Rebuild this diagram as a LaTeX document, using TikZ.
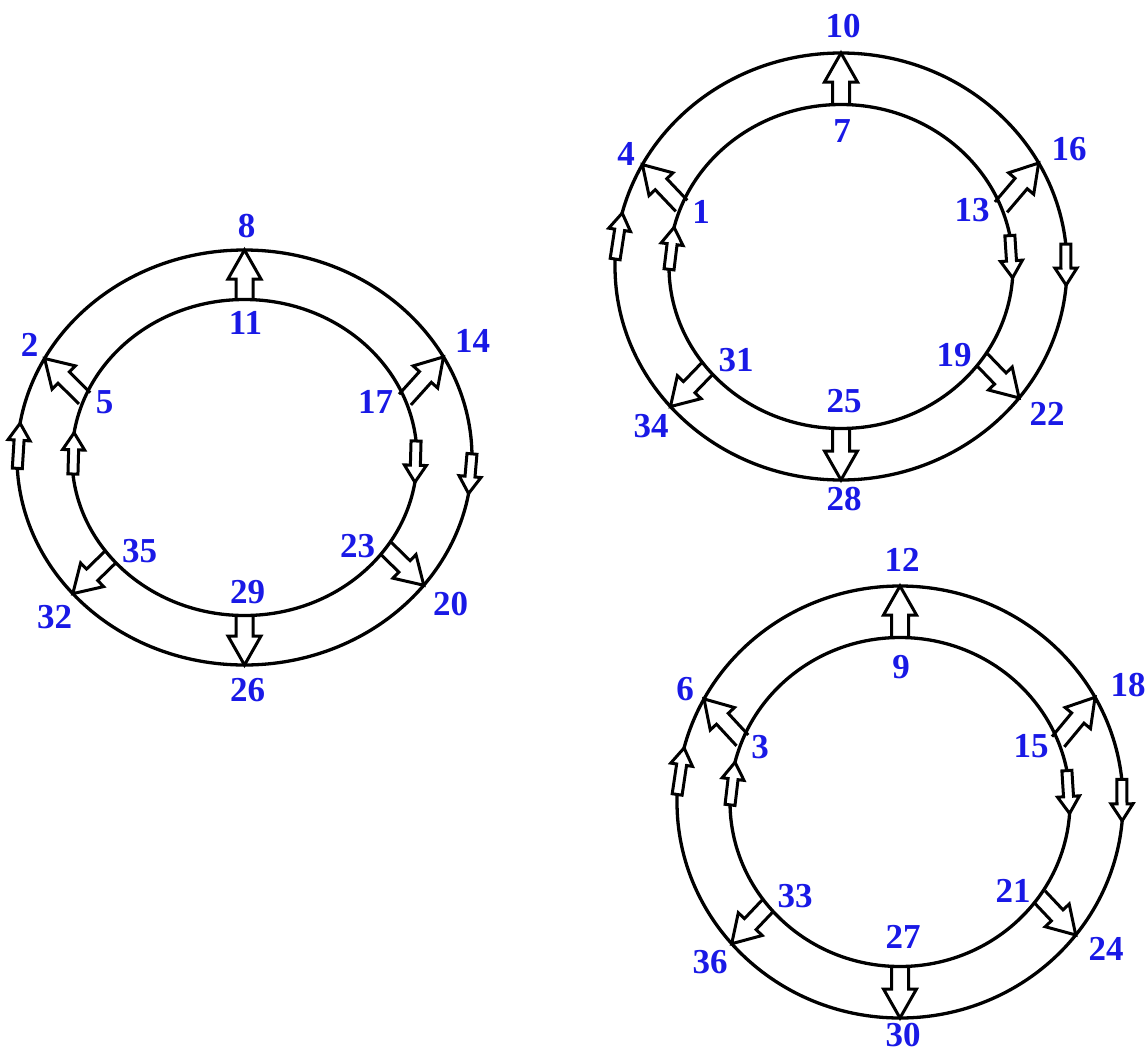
\documentclass[tikz,border=0pt]{standalone}
\usepackage{fontspec}
\setmainfont{Liberation Serif}
\usetikzlibrary{calc}
\definecolor{lblue}{RGB}{25,25,230}
\tikzset{
  ring/.style={line width=3.3pt, draw=black},
  barr/.style={line width=3pt, draw=black, fill=white, line join=miter},
  lab/.style={text=lblue, font=\fontsize{35}{35}\selectfont\bfseries, inner sep=0pt},
}
% point on ellipse around (C): name, angle, rx, ry
\newcommand{\rp}[4]{\coordinate (#1) at ($(C)+({#3*cos(#2)},{-#4*sin(#2)})$);}
% block arrow: from, to, shaft half, head half, head length, path end
\newcommand{\blockarrow}[6]{%
  \path ($(#2)!#5!(#1)$) coordinate (nk);
  \draw[barr] ($(#1)!#3!90:(#2)$) -- ($(nk)!#3!90:(#2)$) -- ($(nk)!#4!90:(#2)$) -- (#2)
    -- ($(nk)!#4!-90:(#2)$) -- ($(nk)!#3!-90:(#2)$) -- ($(#1)!#3!-90:(#2)$) #6;
}
\begin{document}
\begin{tikzpicture}[x=1pt,y=-1pt]
\useasboundingbox (0,0) rectangle (1148,1057);
\fill[white] (0,0) rectangle (1148,1057);
\foreach \cx/\cy/\Ro/\Qo/\Ri/\Qi/\sh/\tl/\lTo/\lTi/\lULo/\lULi/\lURo/\lURi/\lLLi/\lLLo/\lBi/\lBo/\lLRi/\lLRo in
  {244.5/457.5/227.5/207.5/172.5/158/5/-231/8/11/2/5/14/17/35/32/29/26/23/20,
   841/266.5/226/213.5/172/162/0/-240/10/7/4/1/16/13/31/34/25/28/19/22,
   900/802/223/216/170/164.5/0/-242/12/9/6/3/18/15/33/36/27/30/21/24}{
  \coordinate (C) at (\cx,\cy);
  \rp{iT}{90}{\Ri}{\Qi} \rp{oT}{90}{\Ro}{\Qo}
  \rp{iB}{270}{\Ri}{\Qi} \rp{oB}{270}{\Ro}{\Qo}
  \rp{iUL}{158}{\Ri}{\Qi} \rp{oUL}{151.5}{\Ro}{\Qo}
  \rp{iUR}{21.5}{\Ri}{\Qi} \rp{oUR}{29}{\Ro}{\Qo}
  \rp{iLL}{219}{\Ri}{\Qi} \rp{oLL}{221}{\Ro}{\Qo}
  \rp{iLR}{-35}{\Ri}{\Qi} \rp{oLR}{-38}{\Ro}{\Qo}
  \rp{sOLa}{178+\sh}{\Ro}{\Qo} \rp{sOLb}{165.5+\sh}{\Ro}{\Qo}
  \rp{sILa}{181+\sh}{\Ri}{\Qi} \rp{sILb}{166+\sh}{\Ri}{\Qi}
  \rp{sORa}{6-\sh}{\Ro}{\Qo} \rp{sORb}{-5-\sh}{\Ro}{\Qo}
  \rp{sIRa}{11-\sh}{\Ri}{\Qi} \rp{sIRb}{-4-\sh}{\Ri}{\Qi}
  % big arrows
  \blockarrow{iT}{oT}{8.5pt}{16.5pt}{29pt}{}
  \blockarrow{iB}{oB}{8.5pt}{16.5pt}{29pt}{}
  \blockarrow{iUL}{oUL}{8pt}{16.5pt}{27pt}{}
  \blockarrow{iUR}{oUR}{8pt}{16.5pt}{27pt}{}
  \blockarrow{iLL}{oLL}{8pt}{16.5pt}{27pt}{}
  \blockarrow{iLR}{oLR}{8pt}{16.5pt}{27pt}{}
  % rings
  \draw[ring] (C) ellipse [x radius=\Ro pt, y radius=\Qo pt];
  \draw[ring] (C) ellipse [x radius=\Ri pt, y radius=\Qi pt];
  % small arrows in the rings
  \blockarrow{sOLa}{sOLb}{5pt}{11pt}{17pt}{-- cycle}
  \blockarrow{sILa}{sILb}{5pt}{11pt}{17pt}{-- cycle}
  \blockarrow{sORa}{sORb}{5pt}{11pt}{17pt}{-- cycle}
  \blockarrow{sIRa}{sIRb}{5pt}{11pt}{17pt}{-- cycle}
  % labels
  \node[lab] (n\lTo) at ($(C)+(2,\tl)$) {\lTo};
  \node[lab] (n\lTi) at ($(C)+(1,-135)$) {\lTi};
  \node[lab] (n\lULo) at ($(C)+(-215,-113)$) {\lULo};
  \node[lab] (n\lULi) at ($(C)+(-140,-55)$) {\lULi};
  \node[lab] (n\lURo) at ($(C)+(228,-117)$) {\lURo};
  \node[lab] (n\lURi) at ($(C)+(131,-56)$) {\lURi};
  \node[lab] (n\lLLi) at ($(C)+(-105,94)$) {\lLLi};
  \node[lab] (n\lLLo) at ($(C)+(-190,160)$) {\lLLo};
  \node[lab] (n\lBi) at ($(C)+(3,135)$) {\lBi};
  \node[lab] (n\lBo) at ($(C)+(3,233)$) {\lBo};
  \node[lab] (n\lLRi) at ($(C)+(113,89)$) {\lLRi};
  \node[lab] (n\lLRo) at ($(C)+(206,147)$) {\lLRo};
}
\end{tikzpicture}
\end{document}
